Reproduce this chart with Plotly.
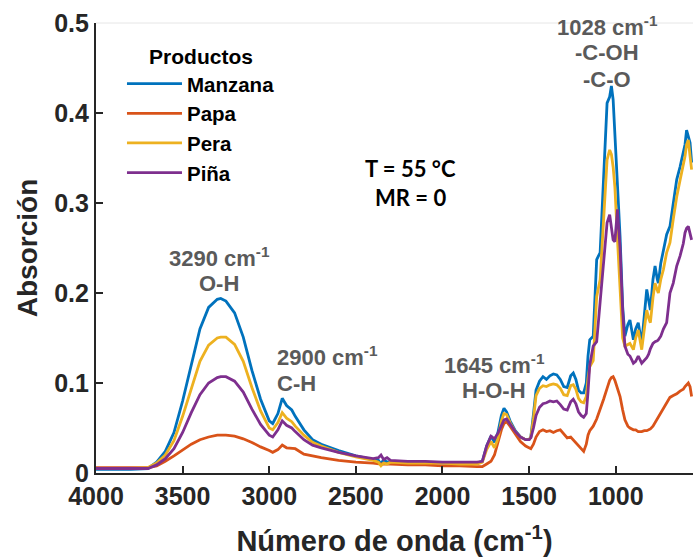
import plotly.graph_objects as go

# Wavenumber grid (cm-1) shared by all spectra
wavenumber = [
    4000, 3900, 3800, 3700, 3650, 3600, 3550, 3500, 3450, 3400, 3350, 3300, 3280,
    3250, 3200, 3150, 3100, 3050, 3000, 2980, 2950, 2925, 2900, 2870, 2850, 2800,
    2750, 2700, 2600, 2500, 2400, 2370, 2355, 2340, 2320, 2300, 2200, 2100, 2000,
    1900, 1800, 1770, 1745, 1720, 1700, 1680, 1660, 1645, 1630, 1610, 1580, 1550,
    1520, 1500, 1490, 1475, 1460, 1440, 1420, 1400, 1380, 1360, 1340, 1320, 1300,
    1280, 1260, 1245, 1230, 1215, 1200, 1185, 1170, 1160, 1150, 1130, 1110, 1090,
    1070, 1050, 1035, 1025, 1015, 1005, 990, 975, 960, 947, 930, 918, 898, 885,
    870, 850, 835, 821, 810, 800, 785, 773, 760, 754, 740, 725, 706, 687, 668,
    648, 629, 610, 600, 591, 581, 571, 562,
]

manzana = [
    0.004, 0.004, 0.004, 0.005, 0.012, 0.024, 0.045, 0.080, 0.121, 0.160, 0.184, 0.193, 0.194,
    0.191, 0.178, 0.151, 0.114, 0.082, 0.058, 0.055, 0.066, 0.083, 0.075, 0.070, 0.063, 0.048,
    0.037, 0.032, 0.025, 0.019, 0.015, 0.014, 0.010, 0.015, 0.012, 0.013, 0.012, 0.012, 0.011,
    0.011, 0.011, 0.013, 0.030, 0.041, 0.034, 0.045, 0.064, 0.072, 0.068, 0.058, 0.047, 0.040,
    0.037, 0.037, 0.040, 0.065, 0.092, 0.102, 0.107, 0.104, 0.108, 0.110, 0.109, 0.104, 0.096,
    0.095, 0.108, 0.111, 0.104, 0.092, 0.089, 0.089, 0.100, 0.130, 0.148, 0.152, 0.237, 0.245,
    0.337, 0.411, 0.418, 0.430, 0.415, 0.380, 0.330, 0.263, 0.185, 0.152, 0.165, 0.170, 0.148, 0.160,
    0.167, 0.144, 0.175, 0.204, 0.192, 0.181, 0.215, 0.230, 0.215, 0.211, 0.233, 0.248, 0.265, 0.274, 0.300,
    0.326, 0.340, 0.355, 0.365, 0.381, 0.375, 0.367, 0.345,
]

papa = [
    0.006, 0.006, 0.006, 0.006, 0.008, 0.013, 0.019, 0.026, 0.032, 0.037, 0.040, 0.042, 0.042,
    0.042, 0.041, 0.038, 0.034, 0.029, 0.025, 0.023, 0.026, 0.031, 0.028, 0.027, 0.027, 0.021,
    0.019, 0.017, 0.014, 0.012, 0.011, 0.010, 0.010, 0.010, 0.010, 0.010, 0.009, 0.009, 0.008,
    0.008, 0.007, 0.007, 0.010, 0.013, 0.020, 0.034, 0.048, 0.055, 0.057, 0.052, 0.043, 0.035,
    0.030, 0.028, 0.027, 0.032, 0.040, 0.046, 0.048, 0.046, 0.047, 0.045, 0.047, 0.048, 0.043,
    0.039, 0.040, 0.037, 0.033, 0.030, 0.027, 0.024, 0.032, 0.042, 0.047, 0.052, 0.060, 0.070,
    0.082, 0.094, 0.103, 0.106, 0.107, 0.103, 0.094, 0.085, 0.070, 0.059, 0.052, 0.050, 0.048, 0.048,
    0.046, 0.046, 0.047, 0.047, 0.048, 0.049, 0.052, 0.056, 0.060, 0.062, 0.068, 0.073, 0.078, 0.084, 0.086,
    0.088, 0.091, 0.093, 0.096, 0.098, 0.100, 0.096, 0.085,
]

pera = [
    0.005, 0.005, 0.005, 0.006, 0.011, 0.020, 0.036, 0.063, 0.094, 0.124, 0.142, 0.150, 0.151,
    0.151, 0.143, 0.124, 0.095, 0.069, 0.050, 0.048, 0.056, 0.067, 0.061, 0.057, 0.052, 0.042,
    0.034, 0.030, 0.023, 0.018, 0.014, 0.012, 0.008, 0.011, 0.010, 0.012, 0.011, 0.011, 0.011,
    0.010, 0.010, 0.012, 0.026, 0.035, 0.028, 0.038, 0.058, 0.066, 0.065, 0.056, 0.046, 0.040,
    0.037, 0.037, 0.040, 0.060, 0.086, 0.094, 0.097, 0.096, 0.098, 0.099, 0.098, 0.094, 0.087,
    0.086, 0.097, 0.098, 0.093, 0.083, 0.079, 0.078, 0.085, 0.105, 0.118, 0.125, 0.196, 0.215,
    0.281, 0.348, 0.359, 0.354, 0.340, 0.318, 0.260, 0.200, 0.150, 0.141, 0.143, 0.144, 0.137, 0.150,
    0.159, 0.137, 0.160, 0.181, 0.172, 0.167, 0.195, 0.211, 0.203, 0.200, 0.215, 0.226, 0.245, 0.256, 0.282,
    0.307, 0.325, 0.341, 0.352, 0.365, 0.370, 0.352, 0.337,
]

pina = [
    0.005, 0.005, 0.005, 0.005, 0.009, 0.016, 0.027, 0.045, 0.067, 0.087, 0.100, 0.106, 0.107,
    0.107, 0.102, 0.090, 0.071, 0.054, 0.042, 0.040, 0.048, 0.058, 0.053, 0.050, 0.046, 0.037,
    0.031, 0.028, 0.023, 0.019, 0.016, 0.017, 0.020, 0.015, 0.017, 0.014, 0.013, 0.013, 0.012,
    0.012, 0.012, 0.013, 0.030, 0.041, 0.038, 0.044, 0.053, 0.059, 0.060, 0.054, 0.046, 0.040,
    0.037, 0.037, 0.039, 0.050, 0.064, 0.073, 0.077, 0.078, 0.080, 0.079, 0.080, 0.076, 0.071,
    0.070, 0.079, 0.082, 0.077, 0.068, 0.064, 0.062, 0.066, 0.090, 0.120, 0.141, 0.146, 0.190,
    0.235, 0.278, 0.287, 0.275, 0.259, 0.257, 0.293, 0.250, 0.180, 0.141, 0.132, 0.130, 0.122, 0.124,
    0.130, 0.122, 0.125, 0.128, 0.132, 0.138, 0.144, 0.146, 0.147, 0.148, 0.152, 0.160, 0.167, 0.200, 0.211,
    0.230, 0.241, 0.255, 0.267, 0.272, 0.274, 0.265, 0.259,
]

series = [
    ("Manzana", manzana, "#0072BD"),
    ("Papa", papa, "#D95319"),
    ("Pera", pera, "#EDB120"),
    ("Piña", pina, "#7E2F8E"),
]

# Band assignments: (position cm-1, absorbance at block centre, lines, x anchor)
band_labels = [
    (3290, 0.2253, ["3290 cm<sup>-1</sup>", "O-H"], "center"),
    (2966, 0.1148, ["2900 cm<sup>-1</sup>", "C-H"], "left"),
    (1700, 0.1064, ["1645 cm<sup>-1</sup>", "H-O-H"], "center"),
    (1050, 0.4667, ["1028 cm<sup>-1</sup>", "-C-OH", "-C-O"], "center"),
]
conditions = ["T = 55 °C", "MR = 0"]

FONT = "Arial, Liberation Sans, sans-serif"
LINE_GAP = 27  # px between stacked label lines

fig = go.Figure()
for name, values, color in series:
    fig.add_trace(go.Scatter(
        x=wavenumber, y=values, mode="lines", name=name,
        line=dict(color=color, width=2.8),
    ))


def add_block(xpos, ypos, lines, anchor, font, gap):
    n = len(lines)
    for i, line in enumerate(lines):
        fig.add_annotation(
            x=xpos, y=ypos, xref="x", yref="y", text=line,
            showarrow=False, xanchor=anchor, yanchor="middle", align=anchor,
            yshift=((n - 1) / 2 - i) * gap, font=font,
        )


for xpos, ypos, lines, anchor in band_labels:
    add_block(xpos, ypos, lines, anchor,
              dict(family=FONT, size=22, color="#5a5a5a", weight="bold"), LINE_GAP)

add_block(2187, 0.322, conditions, "center",
          dict(family="Lato", size=22, color="black", weight="bold"), 29)

# faint frame line along the top of the axes box
fig.add_shape(type="line", xref="paper", yref="paper", x0=0, x1=1, y0=1, y1=1,
              line=dict(color="#e6e6e6", width=1))

axis_common = dict(
    showline=True, linecolor="#262626", linewidth=2.2, mirror=False,
    ticks="inside", ticklen=7, tickwidth=2, tickcolor="#262626",
    showgrid=False, zeroline=False,
    tickfont=dict(family=FONT, size=25, color="#262626", weight="bold"),
)

fig.update_xaxes(
    range=[4000, 554],
    tickvals=[4000, 3500, 3000, 2500, 2000, 1500, 1000],
    title=dict(text="Número de onda (cm<sup>-1</sup>)", standoff=22,
               font=dict(family=FONT, size=29, color="#262626", weight="bold")),
    **axis_common,
)
fig.update_yaxes(
    range=[0, 0.5],
    tickvals=[0, 0.1, 0.2, 0.3, 0.4, 0.5],
    ticktext=["0", "0.1", "0.2", "0.3", "0.4", "0.5"],
    title=dict(text="Absorción", standoff=8,
               font=dict(family=FONT, size=28, color="#262626", weight="bold")),
    **axis_common,
)

fig.update_layout(
    width=693, height=557,
    margin=dict(l=96, r=0, t=23, b=84),
    plot_bgcolor="white", paper_bgcolor="white",
    legend=dict(
        x=0.0435, y=0.97, xanchor="left", yanchor="top",
        bgcolor="rgba(0,0,0,0)", borderwidth=0,
        font=dict(family=FONT, size=20.5, color="black", weight="bold"),
        title=dict(text="Productos", side="top center",
                   font=dict(family=FONT, size=21, color="black", weight="bold")),
        itemwidth=55,
    ),
)

fig.write_html("out.html")
